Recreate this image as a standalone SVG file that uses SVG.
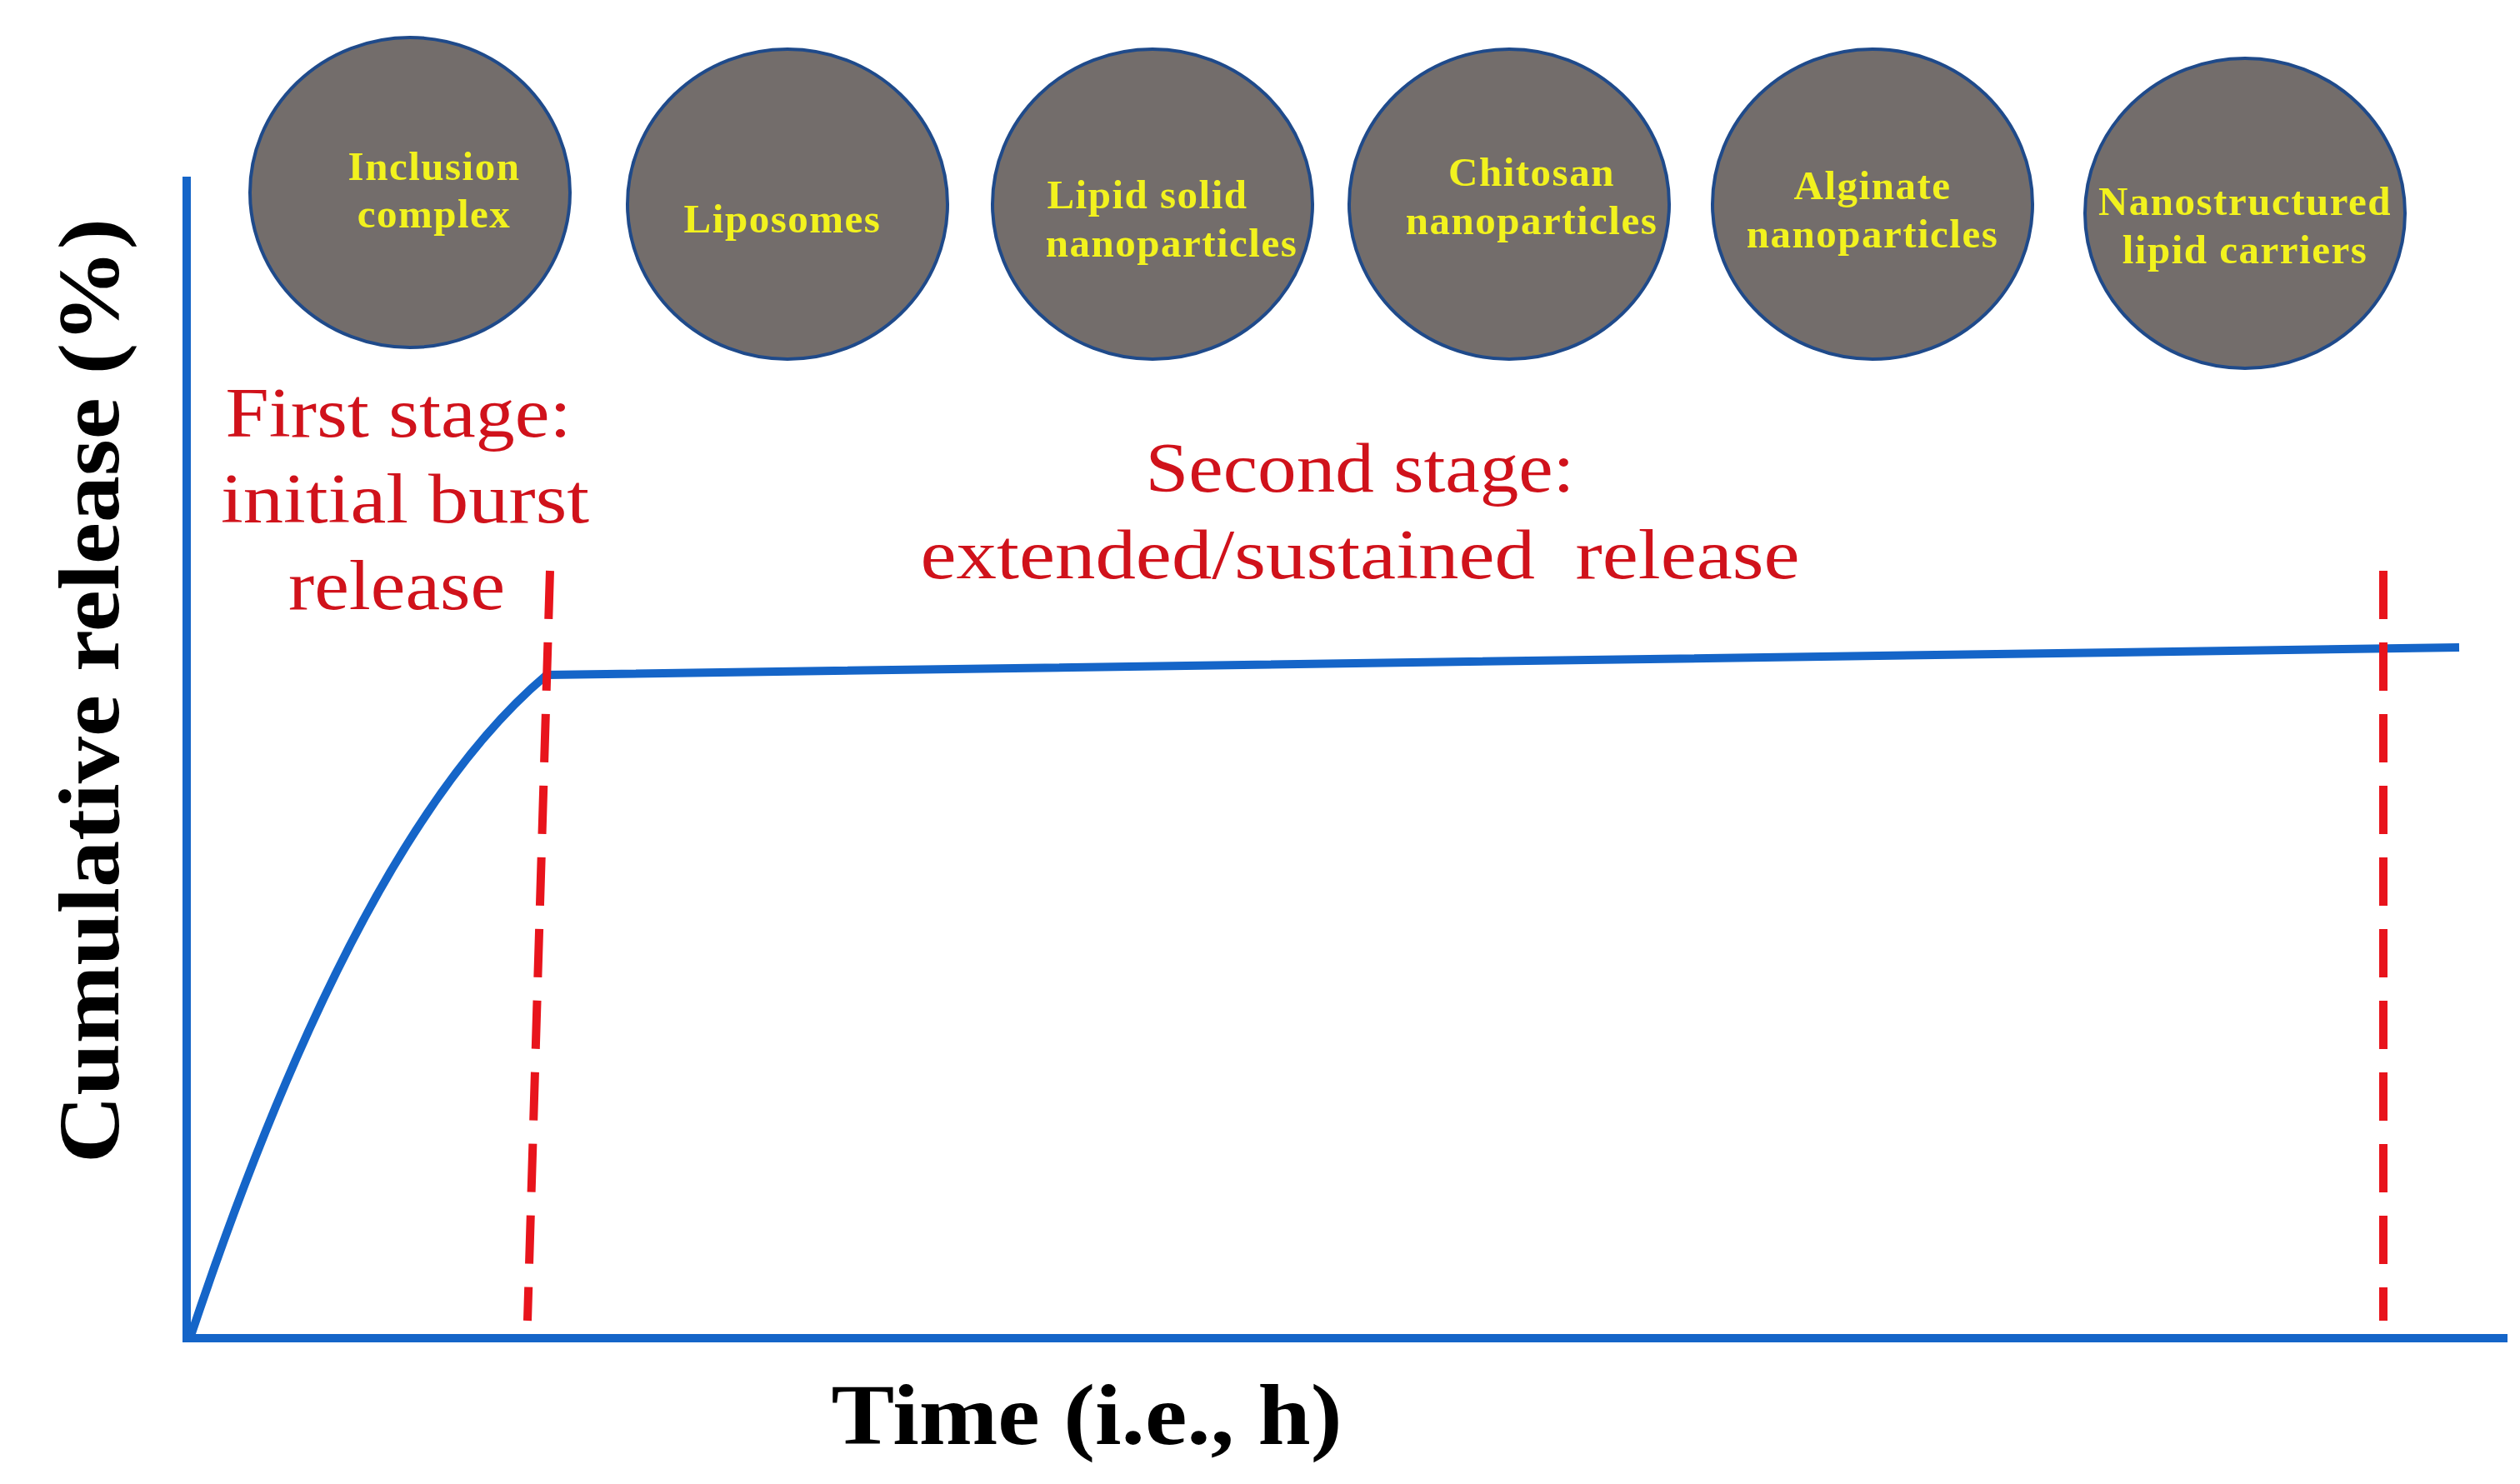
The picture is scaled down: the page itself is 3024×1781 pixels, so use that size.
<svg xmlns="http://www.w3.org/2000/svg" width="3024" height="1781" viewBox="0 0 3024 1781">
<style>
.c{fill:#736d6b;stroke:#1f4a8a;stroke-width:4}
.ct{font-family:"Liberation Serif",serif;font-weight:bold;font-size:49px;letter-spacing:1.5px;fill:#f2f21e;text-anchor:middle;dominant-baseline:central}
.r{font-family:"Liberation Serif",serif;font-size:84px;fill:#d0121b;text-anchor:middle;dominant-baseline:central}
.ax{font-family:"Liberation Serif",serif;font-weight:bold;font-size:104px;fill:#000;text-anchor:middle;dominant-baseline:central}
.b{stroke:#1565c8;stroke-width:10;fill:none}
.d{stroke:#e8141c;stroke-width:10;stroke-dasharray:58 28;fill:none}
</style>
<rect width="3024" height="1781" fill="#fff"/>
<g id="n1"><ellipse class="c" cx="492" cy="231" rx="192" ry="186"/><text class="ct" x="521" y="199">Inclusion</text><text class="ct" x="521" y="256">complex</text></g>
<g id="n2"><ellipse class="c" cx="945" cy="245" rx="192" ry="186"/><text class="ct" x="939" y="262">Liposomes</text></g>
<g id="n3"><ellipse class="c" cx="1383" cy="245" rx="192" ry="186"/><text class="ct" x="1377" y="233">Lipid solid</text><text class="ct" x="1406" y="291">nanoparticles</text></g>
<g id="n4"><ellipse class="c" cx="1811" cy="245" rx="192" ry="186"/><text class="ct" x="1838" y="206">Chitosan</text><text class="ct" x="1838" y="264">nanoparticles</text></g>
<g id="n5"><ellipse class="c" cx="2247" cy="245" rx="192" ry="186"/><text class="ct" x="2247" y="222">Alginate</text><text class="ct" x="2247" y="280">nanoparticles</text></g>
<g id="n6"><ellipse class="c" cx="2694" cy="256" rx="192" ry="186"/><text class="ct" x="2694" y="241">Nanostructured</text><text class="ct" x="2694" y="299">lipid carriers</text></g>
<g id="connectors">
<path class="b" d="M224 212 V1606 H3009"/>
<path class="b" d="M228 1606 Q430 1000 656 810 L2951 777"/>
<path class="d" d="M660 685 L633 1585"/>
<path class="d" d="M2860 685 L2860 1585"/>
</g>
<g id="labels">
<text class="r" x="478" y="495" textLength="415" lengthAdjust="spacingAndGlyphs">First stage:</text>
<text class="r" x="486" y="598" textLength="442" lengthAdjust="spacingAndGlyphs">initial burst</text>
<text class="r" x="476" y="702" textLength="260" lengthAdjust="spacingAndGlyphs">release</text>
<text class="r" x="1632" y="561" textLength="515" lengthAdjust="spacingAndGlyphs">Second stage:</text>
<text class="r" x="1632" y="665" xml:space="preserve" textLength="1055" lengthAdjust="spacingAndGlyphs">extended/sustained  release</text>
<text class="ax" transform="translate(106 829) rotate(-90)" textLength="1134" lengthAdjust="spacingAndGlyphs">Cumulative release (%)</text>
<text class="ax" x="1304" y="1697" textLength="613" lengthAdjust="spacingAndGlyphs">Time (i.e., h)</text>
</g>
</svg>
